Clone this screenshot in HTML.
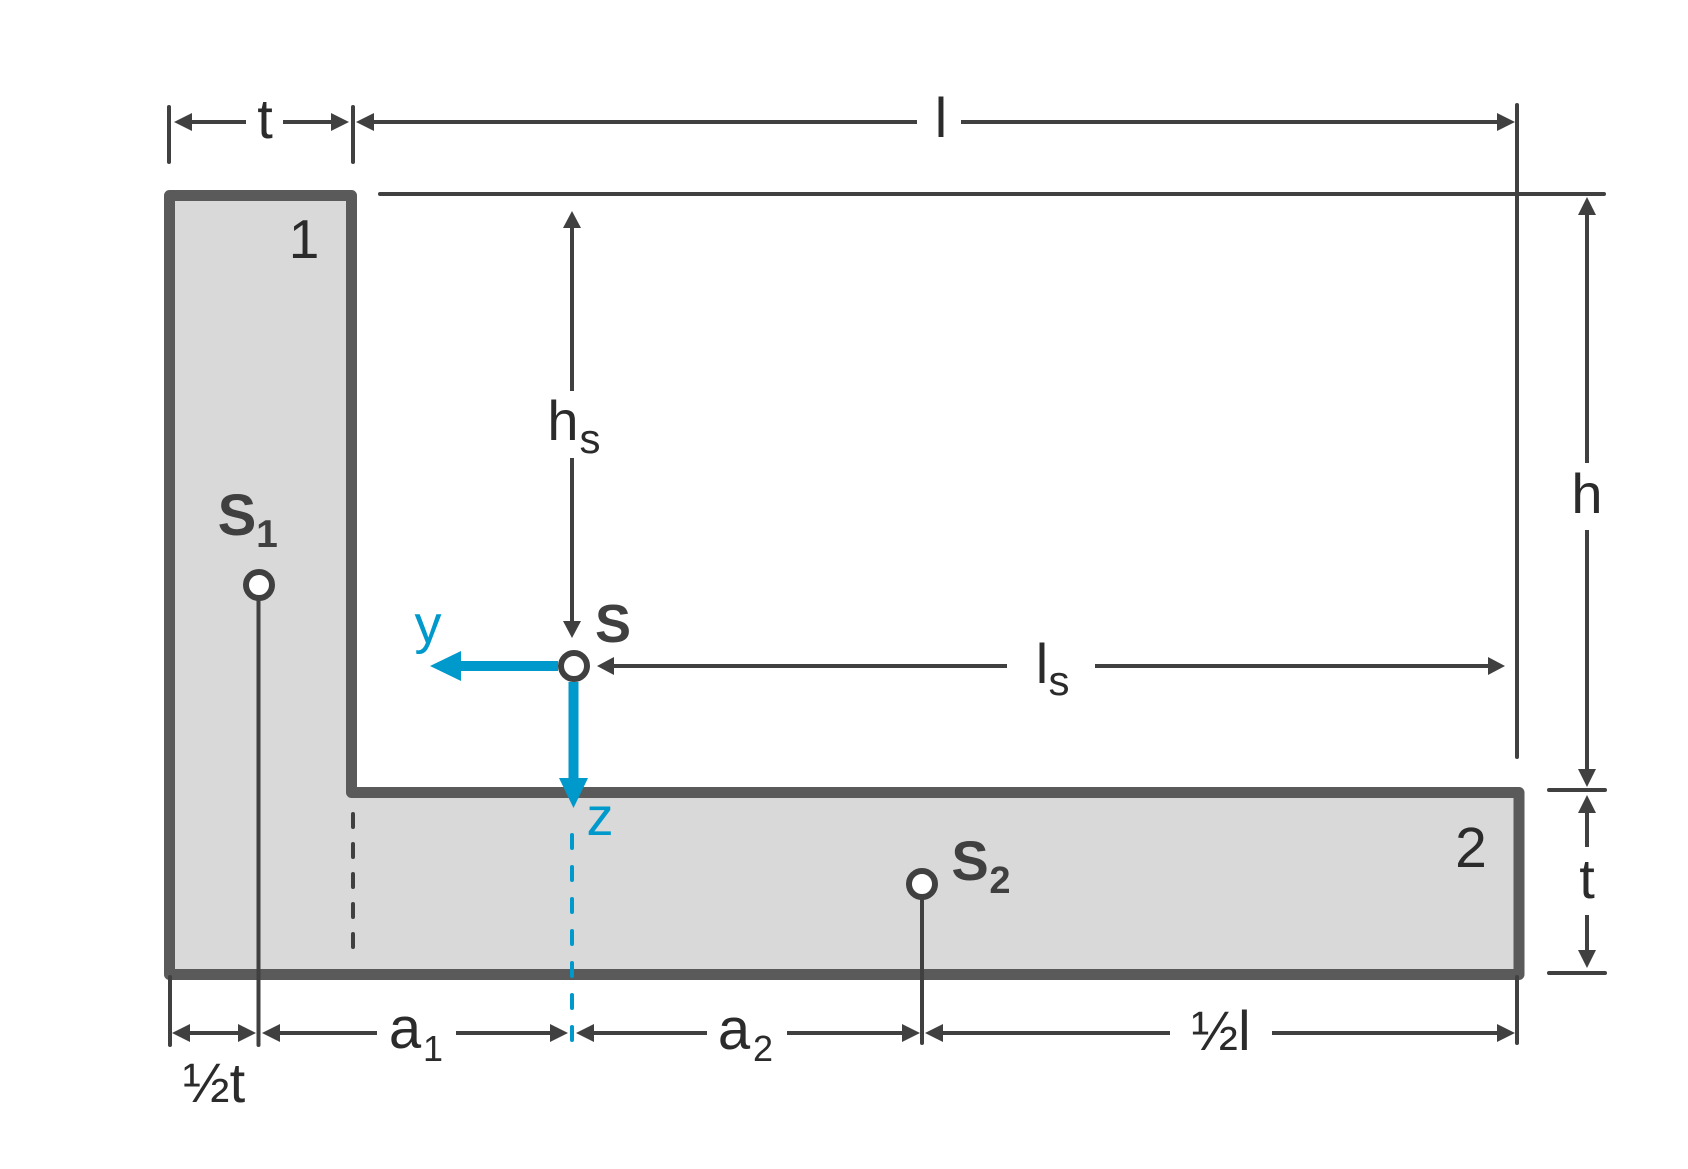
<!DOCTYPE html>
<html>
<head>
<meta charset="utf-8">
<style>
html,body{margin:0;padding:0;background:#fff;}
svg{display:block;}
text{font-family:"Liberation Sans","DejaVu Sans",sans-serif;fill:#2b2b2b;}
.b{font-weight:bold;fill:#404040;}
.blue{fill:#0099cc;}
</style>
</head>
<body>
<svg width="1688" height="1169" viewBox="0 0 1688 1169" xmlns="http://www.w3.org/2000/svg">
  <rect width="1688" height="1169" fill="#fff"/>

  <path d="M169.5,195.5 L351.5,195.5 L351.5,792.5 L1519,792.5 L1519,974.5 L169.5,974.5 Z"
        fill="#d9d9d9" stroke="#5a5a5a" stroke-width="11" stroke-linejoin="round"/>

  <g stroke="#404040" stroke-width="4" stroke-linecap="round" fill="none">
    <line x1="169" y1="107" x2="169" y2="162"/>
    <line x1="353" y1="107" x2="353" y2="162"/>
    <line x1="190" y1="122" x2="246" y2="122" stroke-linecap="butt"/>
    <line x1="283" y1="122" x2="333" y2="122" stroke-linecap="butt"/>
    <line x1="372" y1="122" x2="917" y2="122" stroke-linecap="butt"/>
    <line x1="961" y1="122" x2="1499" y2="122" stroke-linecap="butt"/>
    <line x1="1517" y1="105" x2="1517" y2="757"/>
    <line x1="380" y1="194" x2="1604" y2="194"/>
    <line x1="1587" y1="213" x2="1587" y2="463" stroke-linecap="butt"/>
    <line x1="1587" y1="530" x2="1587" y2="771" stroke-linecap="butt"/>
    <line x1="1549" y1="790" x2="1605" y2="790"/>
    <line x1="1549" y1="973" x2="1605" y2="973"/>
    <line x1="1587" y1="811" x2="1587" y2="847" stroke-linecap="butt"/>
    <line x1="1587" y1="915" x2="1587" y2="952" stroke-linecap="butt"/>
    <line x1="572" y1="226" x2="572" y2="391" stroke-linecap="butt"/>
    <line x1="572" y1="458" x2="572" y2="623" stroke-linecap="butt"/>
    <line x1="612" y1="666" x2="1007" y2="666" stroke-linecap="butt"/>
    <line x1="1095" y1="666" x2="1490" y2="666" stroke-linecap="butt"/>
    <line x1="258.5" y1="600" x2="258.5" y2="1045"/>
    <line x1="922" y1="899" x2="922" y2="1043"/>
    <line x1="170" y1="977" x2="170" y2="1045"/>
    <line x1="1517" y1="977" x2="1517" y2="1043"/>
    <line x1="188" y1="1033" x2="240" y2="1033" stroke-linecap="butt"/>
    <line x1="278" y1="1033" x2="377" y2="1033" stroke-linecap="butt"/>
    <line x1="456" y1="1033" x2="553" y2="1033" stroke-linecap="butt"/>
    <line x1="592" y1="1033" x2="707" y2="1033" stroke-linecap="butt"/>
    <line x1="787" y1="1033" x2="905" y2="1033" stroke-linecap="butt"/>
    <line x1="941" y1="1033" x2="1170" y2="1033" stroke-linecap="butt"/>
    <line x1="1272" y1="1033" x2="1500" y2="1033" stroke-linecap="butt"/>
    <line x1="353" y1="814" x2="353" y2="953" stroke-dasharray="13 17"/>
  </g>

  <line x1="572" y1="835" x2="572" y2="1041" stroke="#0099cc" stroke-width="4" stroke-linecap="round" stroke-dasharray="13 19"/>

  <g fill="#404040">
    <polygon points="174,122 192,113 192,131"/>
    <polygon points="349,122 331,113 331,131"/>
    <polygon points="356,122 374,113 374,131"/>
    <polygon points="1515,122 1497,113 1497,131"/>
    <polygon points="1587,197 1578,215 1596,215"/>
    <polygon points="1587,787 1578,769 1596,769"/>
    <polygon points="1587,795 1578,813 1596,813"/>
    <polygon points="1587,968 1578,950 1596,950"/>
    <polygon points="572,211 563,228 581,228"/>
    <polygon points="572,638 563,621 581,621"/>
    <polygon points="597,666 614,657 614,675"/>
    <polygon points="1505,666 1488,657 1488,675"/>
    <polygon points="172,1033 190,1024 190,1042"/>
    <polygon points="256,1033 238,1024 238,1042"/>
    <polygon points="262,1033 280,1024 280,1042"/>
    <polygon points="568,1033 550,1024 550,1042"/>
    <polygon points="576,1033 594,1024 594,1042"/>
    <polygon points="920,1033 902,1024 902,1042"/>
    <polygon points="925,1033 943,1024 943,1042"/>
    <polygon points="1515,1033 1497,1024 1497,1042"/>
  </g>

  <line x1="558" y1="666" x2="458" y2="666" stroke="#0099cc" stroke-width="10"/>
  <polygon points="430,666 461,651 461,681" fill="#0099cc"/>
  <line x1="573.5" y1="682" x2="573.5" y2="780" stroke="#0099cc" stroke-width="10"/>
  <polygon points="573.5,808 559,778 588,778" fill="#0099cc"/>

  <g fill="#fff" stroke="#404040" stroke-width="6">
    <circle cx="259" cy="585" r="13"/>
    <circle cx="574" cy="666" r="13"/>
    <circle cx="922" cy="884" r="13"/>
  </g>

  <text x="304" y="258" font-size="55" text-anchor="middle">1</text>
  <text x="1471" y="867" font-size="57" text-anchor="middle">2</text>

  <text x="265" y="138" font-size="56" text-anchor="middle">t</text>
  <text x="941" y="137" font-size="56" text-anchor="middle">l</text>
  <text x="1587" y="513" font-size="56" text-anchor="middle">h</text>
  <text x="1587" y="898" font-size="56" text-anchor="middle">t</text>

  <text x="563" y="440" font-size="56" text-anchor="middle">h</text>
  <text x="590" y="453" font-size="42" text-anchor="middle">s</text>

  <text x="1042" y="683" font-size="56" text-anchor="middle">l</text>
  <text x="1059" y="695" font-size="42" text-anchor="middle">s</text>

  <text class="b" x="237" y="535" font-size="58" text-anchor="middle">S</text>
  <text class="b" x="267" y="547" font-size="39" text-anchor="middle">1</text>

  <text class="b" x="613" y="642" font-size="54" text-anchor="middle">S</text>

  <text class="b" x="970" y="880" font-size="56" text-anchor="middle">S</text>
  <text class="b" x="1000" y="893" font-size="38" text-anchor="middle">2</text>

  <text class="blue" x="428" y="643" font-size="54" text-anchor="middle">y</text>
  <text class="blue" x="600" y="835" font-size="54" text-anchor="middle">z</text>

  <text x="214" y="1102" font-size="56" text-anchor="middle">½t</text>
  <text x="405" y="1048" font-size="58" text-anchor="middle">a</text>
  <text x="433" y="1061" font-size="36" text-anchor="middle">1</text>
  <text x="734" y="1049" font-size="58" text-anchor="middle">a</text>
  <text x="763" y="1061" font-size="36" text-anchor="middle">2</text>
  <text x="1221" y="1050" font-size="56" text-anchor="middle">½l</text>
</svg>
</body>
</html>
